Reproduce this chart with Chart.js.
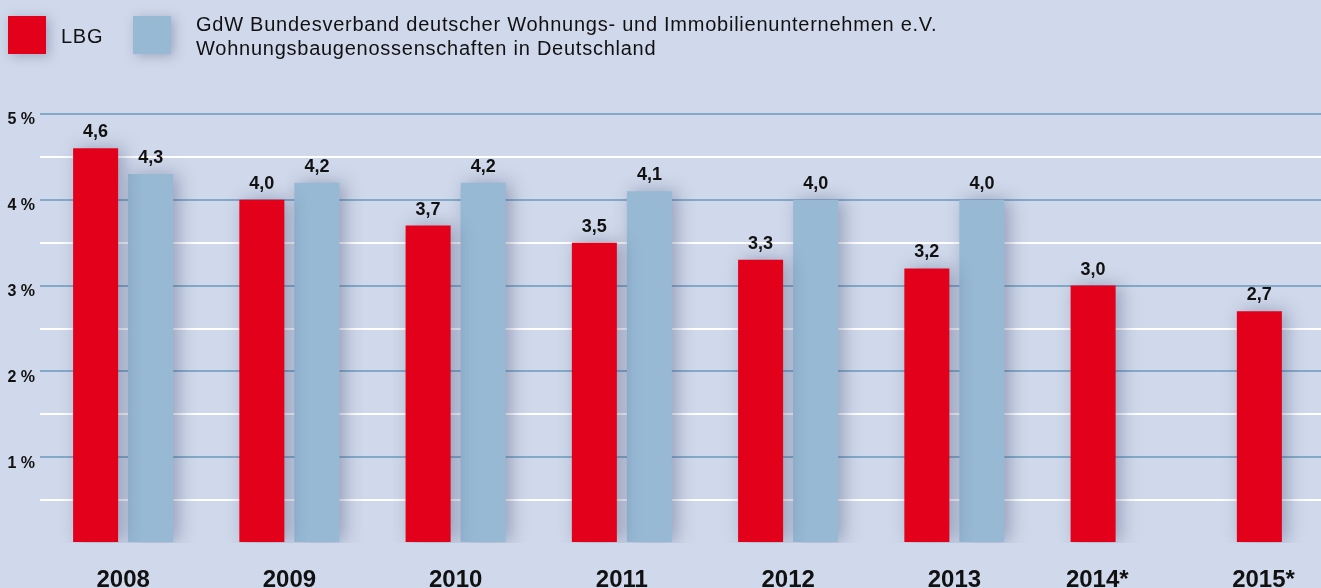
<!DOCTYPE html>
<html>
<head>
<meta charset="utf-8">
<script src="https://cdn.jsdelivr.net/npm/chart.js@4.4.1/dist/chart.umd.min.js"></script>
<style>
  body { margin: 0; background: #d0d9eb; overflow: hidden; }
  #wrap { position: relative; width: 1321px; height: 588px; overflow: hidden; }
  #chart { position: absolute; left: 0; top: 0; }
  .box { position: absolute; top: 16px; width: 38px; height: 38px; box-shadow: 3px 2px 12px rgba(60,70,110,0.35); }
  .txt { position: absolute; font-family: 'Liberation Sans', Arial, sans-serif; font-size: 20px; letter-spacing: 0.75px; color: #111; line-height: 24px; white-space: nowrap; }
</style>
</head>
<body>
<div id="wrap">
  <canvas id="chart" width="1372" height="588"></canvas>
  <div id="legend"></div>
</div>
<script>
// data
const years = ['2008', '2009', '2010', '2011', '2012', '2013', '2014*', '2015*'];
const lbgValues = [4.6, 4.0, 3.7, 3.5, 3.3, 3.2, 3.0, 2.7];
const gdwValues = [4.3, 4.2, 4.2, 4.1, 4.0, 4.0, null, null];
const seriesNames = ['LBG', 'GdW Bundesverband deutscher Wohnungs- und Immobilienunternehmen e.V.\nWohnungsbaugenossenschaften in Deutschland'];
const seriesColors = ['#e2001a', '#97b9d4'];

// html legend
const legend = document.getElementById('legend');
const boxLeft = [8, 133];
const textLeft = [61, 196];
const textTop = [24, 12];
seriesNames.forEach((name, i) => {
  const b = document.createElement('div');
  b.className = 'box';
  b.style.left = boxLeft[i] + 'px';
  b.style.background = seriesColors[i];
  legend.appendChild(b);
  const t = document.createElement('div');
  t.className = 'txt';
  t.style.left = textLeft[i] + 'px';
  t.style.top = textTop[i] + 'px';
  t.innerHTML = name.split('\n').join('<br>');
  legend.appendChild(t);
});

const barShadow = {
  id: 'barShadow',
  beforeDatasetsDraw(chart) {
    const c = chart.ctx;
    c.save();
    c.shadowColor = 'rgba(60,70,110,0.4)';
    c.shadowBlur = 18;
    c.shadowOffsetX = 5;
    c.shadowOffsetY = 0;
  },
  afterDatasetsDraw(chart) {
    chart.ctx.restore();
  }
};

const valueLabels = {
  id: 'valueLabels',
  afterDatasetsDraw(chart) {
    const c = chart.ctx;
    c.save();
    c.font = 'bold 18px "Liberation Sans", Arial, sans-serif';
    c.fillStyle = '#111';
    c.textAlign = 'center';
    c.textBaseline = 'alphabetic';
    chart.data.datasets.forEach((ds, di) => {
      chart.getDatasetMeta(di).data.forEach((bar, i) => {
        const v = ds.data[i];
        if (v == null) return;
        c.fillText(v.toFixed(1).replace('.', ','), bar.x, bar.y - 11);
      });
    });
    c.restore();
  }
};

new Chart(document.getElementById('chart'), {
  type: 'bar',
  data: {
    labels: years,
    datasets: [{
      label: 'LBG',
      data: lbgValues,
      backgroundColor: seriesColors[0],
      barPercentage: 0.818,
      categoryPercentage: 0.662
    }, {
      label: 'GdW',
      data: gdwValues,
      backgroundColor: seriesColors[1],
      barPercentage: 0.818,
      categoryPercentage: 0.662
    }]
  },
  options: {
    responsive: false,
    animation: false,
    layout: { padding: { top: 114, right: 2, left: 0, bottom: 0 } },
    plugins: {
      legend: { display: false },
      tooltip: { enabled: false }
    },
    scales: {
      x: {
        grid: { display: false },
        border: { display: false },
        ticks: {
          padding: 15,
          color: '#111',
          font: { family: '"Liberation Sans", Arial, sans-serif', size: 24, weight: 'bold' },
          callback: function(v, i) {
            const l = years[i];
            return l.endsWith('*') ? l + '\u00a0'.repeat(7) : l;
          }
        },
        afterFit: (s) => { s.height = 45; }
      },
      y: {
        min: 0,
        max: 5,
        border: { display: false },
        grid: {
          drawTicks: false,
          lineWidth: 2,
          color: (ctx) => {
            const v = ctx.tick.value;
            if (v === 0) return 'rgba(0,0,0,0)';
            return Number.isInteger(v) ? '#84a9c8' : '#ffffff';
          }
        },
        ticks: {
          stepSize: 0.5,
          padding: 5,
          labelOffset: 6,
          color: '#111',
          font: { family: '"Liberation Sans", Arial, sans-serif', size: 16, weight: 'bold' },
          callback: (v) => (Number.isInteger(v) && v > 0) ? v + ' %' : ''
        },
        afterFit: (s) => { s.width = 40; }
      }
    }
  },
  plugins: [barShadow, valueLabels]
});
</script>
</body>
</html>
